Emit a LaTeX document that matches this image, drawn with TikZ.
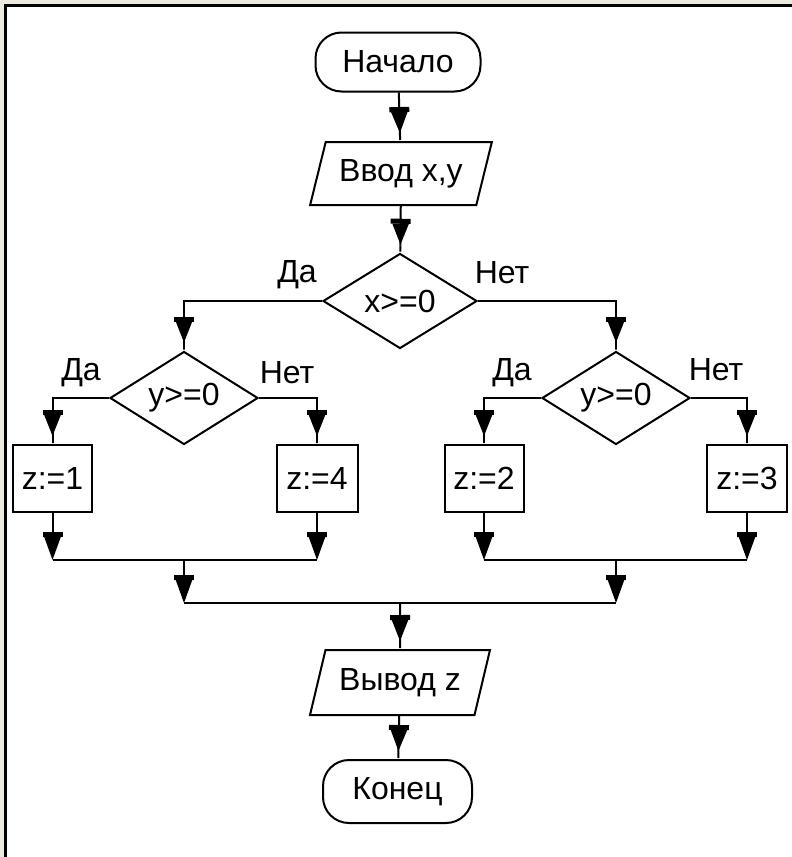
\documentclass[tikz,border=0pt]{standalone}
\usepackage{fontspec}
\setmainfont{Liberation Sans}
\usetikzlibrary{shapes.geometric, arrows.meta}
\definecolor{bgbeige}{HTML}{ECE9DE}
\begin{document}
\begin{tikzpicture}[x=1pt,y=-1pt,
  every node/.style={font=\fontsize{32}{36}\selectfont, line width=2pt},
  term/.style={draw, rectangle, rounded corners=26pt, minimum width=165pt, minimum height=59pt, inner sep=0pt},
  io/.style={draw, trapezium, trapezium left angle=66, trapezium right angle=114, trapezium stretches=true, minimum width=182pt, minimum height=63pt, inner sep=0pt},
  dec/.style={draw, diamond, minimum width=148pt, minimum height=93pt, inner sep=0pt, aspect=1.6},
  proc/.style={draw, rectangle, minimum width=80pt, minimum height=67pt, inner sep=0pt},
  lbl/.style={inner sep=0pt},
  conn/.style={line width=2pt},
  arrN/.style={conn, -{Rectangle[width=20pt,length=5pt,sep=0pt] Triangle[width=16pt,length=21pt,sep=0pt] Rectangle[width=2pt,length=8pt,sep=0pt]}},
  arrL/.style={conn, -{Rectangle[width=20pt,length=5pt,sep=0pt] Triangle[width=16pt,length=23pt,sep=0pt]}}
]
\useasboundingbox (0,0) rectangle (792,857);
\fill[bgbeige] (0,0) rectangle (792,857);
\fill[white] (6,5) rectangle (792,857);
\draw[line width=3pt] (5.8,857) -- (5.8,5) -- (792,5);

\node[term] (start) at (398,62) {Начало};
\node[io] (input) at (401,173.5) {Ввод x,y};
\node[dec, minimum width=154pt, minimum height=95pt] (d1) at (400,301) {x>=0};
\node[dec] (d2) at (184,398) {y>=0};
\node[dec] (d3) at (616,398) {y>=0};
\node[proc, minimum width=79pt] (z1) at (52.5,478.5) {z:=1};
\node[proc, minimum width=81pt] (z4) at (317,478.5) {z:=4};
\node[proc, minimum width=79pt] (z2) at (484,478.5) {z:=2};
\node[proc, minimum width=80pt] (z3) at (747,478.5) {z:=3};
\node[io, minimum width=180pt, minimum height=65pt] (output) at (400,682.5) {Вывод z};
\node[term, minimum width=149pt, minimum height=63pt] (end) at (397.5,791.5) {Конец};

\node[lbl] (l1) at (297,275) {Да};
\node[lbl] (l2) at (502,273) {Нет};
\node[lbl] (l3) at (81,373) {Да};
\node[lbl] (l4) at (287,373) {Нет};
\node[lbl] (l5) at (512,373) {Да};
\node[lbl] (l6) at (716,370) {Нет};

\coordinate (j1) at (184,560);
\coordinate (j2) at (616,560);
\coordinate (j0) at (400,603);

\draw[arrN] (start) -- (input);
\draw[arrN] (input) -- (d1);
\draw[arrN] (d1.west) -| (d2.north);
\draw[arrN] (d1.east) -| (d3.north);
\draw[arrN] (d2.west) -| (z1.north);
\draw[arrN] (d2.east) -| (z4.north);
\draw[arrN] (d3.west) -| (z2.north);
\draw[arrN] (d3.east) -| (z3.north);

\draw[arrL] (z1.south) -- (z1.south |- j1);
\draw[arrL] (z4.south) -- (z4.south |- j1);
\draw[conn] (z1.south |- j1) -- (z4.south |- j1);
\draw[arrL] (z2.south) -- (z2.south |- j2);
\draw[arrL] (z3.south) -- (z3.south |- j2);
\draw[conn] (z2.south |- j2) -- (z3.south |- j2);

\draw[arrL] (j1) -- (j1 |- j0);
\draw[arrL] (j2) -- (j2 |- j0);
\draw[conn] (j1 |- j0) -- (j2 |- j0);

\draw[arrN] (j0) -- (output);
\draw[arrN] (output) -- (end);
\end{tikzpicture}
\end{document}
